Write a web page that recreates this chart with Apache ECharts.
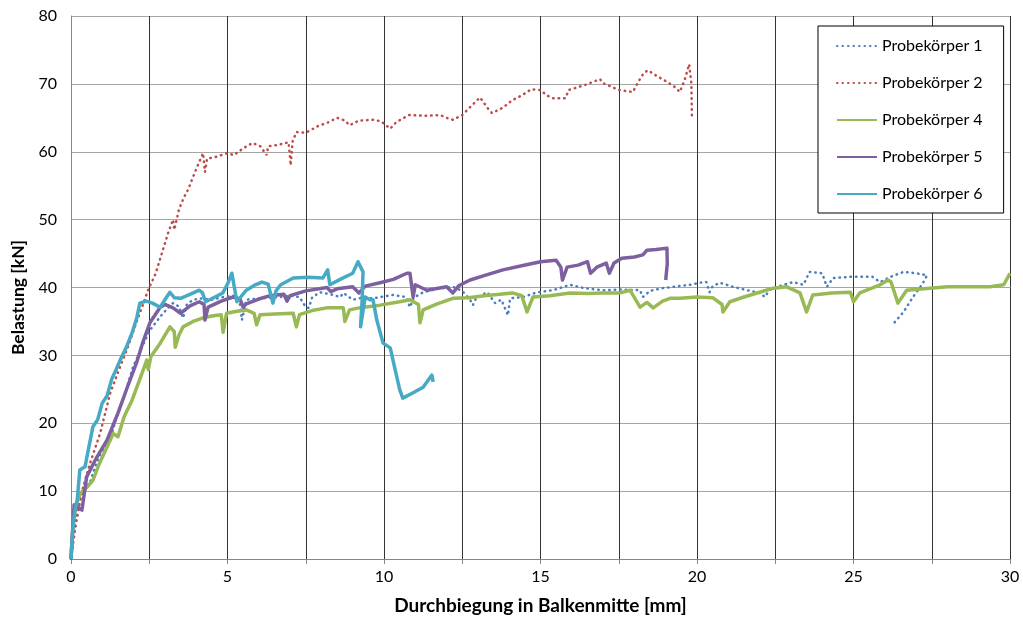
<!DOCTYPE html>
<html>
<head>
<meta charset="utf-8">
<script src="https://cdn.jsdelivr.net/npm/echarts@6/dist/echarts.min.js"></script>
<style>html,body{margin:0;padding:0;background:#fff;}#c{width:1023px;height:626px;}</style>
</head>
<body>
<div id="c"></div>
<script>
const seriesNames = ['Probekörper 1', 'Probekörper 2', 'Probekörper 4', 'Probekörper 5', 'Probekörper 6'];
const xTickLabels = [0, 5, 10, 15, 20, 25, 30];
const yTickLabels = [0, 10, 20, 30, 40, 50, 60, 70, 80];

const probe1 = [[0,0],[0.1,4],[0.25,8],[0.4,10.5],[0.6,11.2],[0.8,14],[1.0,16],[1.25,17.5],[1.4,20],[1.57,22.4],[1.8,25.5],[1.98,28.3],[2.2,30.5],[2.52,33.7],[2.85,35.7],[3.1,37],[3.26,37.7],[3.45,37.2],[3.58,35.5],[3.7,37.5],[3.9,38.2],[4.2,38.4],[4.5,38.2],[4.86,38.6],[5.2,38.8],[5.4,37.5],[5.46,35.2],[5.55,37],[5.6,38.2],[6.0,38.4],[6.4,38.5],[6.68,38.6],[7.0,38.8],[7.3,38.6],[7.5,37.1],[7.6,37],[7.7,38.5],[7.95,39.3],[8.3,39.0],[8.6,38.6],[8.7,39.2],[9.0,38.2],[9.3,38.5],[9.65,38.4],[10.0,38.7],[10.3,38.9],[10.7,38.6],[10.83,37.1],[10.95,38.5],[11.25,39.3],[11.7,39.8],[12.2,40.1],[12.5,39.5],[12.75,38.2],[12.84,37.4],[12.95,38.5],[13.3,39.3],[13.55,37.7],[13.75,38.2],[13.96,35.9],[14.03,38.4],[14.44,38.6],[14.9,39.3],[15.4,39.6],[15.94,40.4],[16.4,39.9],[17.0,39.6],[17.6,39.7],[18.18,39.6],[18.27,38.6],[18.5,39.5],[18.9,39.9],[19.4,40.2],[19.78,40.4],[20.2,40.8],[20.3,40.8],[20.4,39.3],[20.5,40.2],[20.73,40.7],[21.15,40.1],[21.6,39.6],[22.0,39.2],[22.17,38.6],[22.3,39.6],[22.7,40.3],[23.07,40.8],[23.4,40.4],[23.6,42.3],[24.0,42.1],[24.15,40.1],[24.35,41.4],[25.0,41.6],[25.6,41.6],[25.85,40.8],[26.2,41.6],[26.6,42.3],[27.0,42.1],[27.35,41.8],[27.2,40.5],[26.9,38.6],[26.6,36.4],[26.3,34.8]];

const probe2 = [[0,0],[0.15,5],[0.35,10],[0.6,14],[0.93,18.5],[1.25,24.4],[1.5,27.5],[1.8,31],[2.1,35],[2.3,37.5],[2.46,39.6],[2.7,42],[2.9,45],[3.1,48],[3.26,50],[3.3,48.5],[3.45,51.5],[3.6,53.2],[3.75,54.5],[3.9,56.3],[4.05,58],[4.22,59.8],[4.28,57],[4.35,59],[4.6,59.2],[4.8,59.5],[5.0,59.8],[5.2,59.5],[5.5,60.5],[5.8,61.3],[6.05,60.8],[6.25,59.5],[6.3,60.8],[6.6,61],[6.95,61.4],[7.02,58],[7.08,61.5],[7.2,62.9],[7.5,62.8],[7.9,63.8],[8.2,64.3],[8.5,65],[8.75,64.6],[8.9,63.9],[9.2,64.6],[9.65,64.7],[9.9,64.5],[10.2,63.4],[10.4,64.4],[10.8,65.4],[11.3,65.3],[11.8,65.4],[12.0,65],[12.2,64.7],[12.5,65.4],[12.8,66.8],[13.07,68],[13.3,66.5],[13.45,65.7],[13.8,66.5],[14.1,67.6],[14.4,68.3],[14.7,69.2],[15.0,69.1],[15.2,68.3],[15.4,67.9],[15.8,67.9],[15.9,69.1],[16.4,69.8],[16.9,70.7],[17.0,70.1],[17.3,69.5],[17.5,69.1],[17.95,68.8],[18.15,70.5],[18.3,71.6],[18.43,72],[18.7,71.2],[19.04,70.3],[19.3,69.5],[19.45,68.8],[19.6,70.5],[19.75,72.9],[19.82,70],[19.84,64.7]];

const probe4 = [[0,0],[0.07,5.7],[0.2,8.5],[0.3,9.7],[0.5,10.5],[0.7,11.6],[0.9,14],[1.1,16],[1.35,18.5],[1.5,18],[1.7,21],[1.95,23.4],[2.2,26.5],[2.42,29.3],[2.47,27.9],[2.55,29.8],[2.85,31.8],[3.16,34.2],[3.3,33.5],[3.33,31.2],[3.45,33],[3.58,34.2],[3.9,35],[4.2,35.5],[4.5,35.8],[4.8,36],[4.86,33.4],[4.97,36.2],[5.3,36.5],[5.6,36.7],[5.85,36.2],[5.93,34.5],[6.04,36],[6.5,36.1],[7.1,36.2],[7.2,34.2],[7.3,36],[7.7,36.6],[8.17,37],[8.7,37],[8.75,35],[8.9,36.7],[9.2,37],[9.87,37.4],[10.5,37.9],[10.83,38.2],[11.1,37.5],[11.15,34.8],[11.25,36.7],[11.7,37.6],[12.2,38.4],[12.7,38.5],[13.2,38.8],[13.7,39],[14.1,39.2],[14.4,38.8],[14.57,36.4],[14.76,38.6],[15.3,38.8],[15.94,39.2],[16.5,39.1],[17.0,39.2],[17.54,39.2],[17.86,39.6],[18.0,38.5],[18.18,37.1],[18.4,37.8],[18.6,37],[18.9,38],[19.14,38.4],[19.46,38.4],[20.0,38.6],[20.5,38.5],[20.8,37.5],[20.83,36.4],[21.05,37.9],[21.5,38.6],[22.0,39.3],[22.43,39.9],[22.87,40.1],[23.29,39.2],[23.5,36.4],[23.7,38.9],[24.3,39.2],[24.9,39.3],[25.0,37.9],[25.2,39.2],[25.85,40.4],[26.1,41.1],[26.2,40.8],[26.42,37.7],[26.7,39.6],[27.44,39.9],[28.0,40.1],[28.7,40.1],[29.36,40.1],[29.8,40.4],[30,42.1]];

const probe5 = [[0,0],[0.05,4],[0.1,8],[0.2,7.7],[0.35,7.2],[0.5,12.1],[0.8,14.8],[1.15,17.5],[1.5,21.5],[1.8,25.3],[2.1,29],[2.3,32],[2.52,34.8],[2.85,37.1],[3.0,37.5],[3.26,37],[3.5,36.2],[3.8,37.3],[4.1,37.9],[4.25,37.5],[4.28,35.2],[4.38,37.1],[4.8,38.0],[5.18,38.6],[5.4,38.3],[5.5,37.1],[5.6,37.6],[6.0,38.3],[6.36,38.8],[6.8,39.0],[6.9,38.0],[7.0,38.8],[7.5,39.5],[8.18,40.0],[8.3,39.4],[8.5,39.8],[9.0,40.1],[9.2,39.2],[9.4,40.2],[9.87,40.7],[10.3,41.2],[10.73,42.1],[10.83,42.1],[10.93,38.6],[11.0,40.4],[11.37,39.6],[12,40.1],[12.2,39.2],[12.4,40.3],[12.75,41.1],[13.3,41.9],[13.8,42.6],[14.4,43.2],[15.0,43.8],[15.5,44],[15.65,43],[15.7,41.1],[15.85,43],[16.2,43.3],[16.5,43.8],[16.6,42.1],[16.8,43],[17.1,43.6],[17.2,42.1],[17.35,43.6],[17.6,44.3],[18.0,44.5],[18.27,44.8],[18.4,45.5],[18.7,45.6],[19.04,45.8],[19.05,43.5],[19.0,41.1]];

const probe6 = [[0,0],[0.05,4],[0.12,7],[0.2,8.7],[0.28,13.1],[0.45,13.6],[0.55,16],[0.7,19.5],[0.85,20.5],[1.0,23],[1.15,24],[1.3,26.5],[1.45,28],[1.57,29.3],[1.75,31],[1.95,33.3],[2.1,35.5],[2.2,37.7],[2.4,38],[2.6,37.7],[2.85,37.1],[3.0,38.2],[3.16,39.3],[3.3,38.5],[3.5,38.4],[3.8,39],[4.1,39.6],[4.2,39.2],[4.3,37.9],[4.6,38.6],[4.85,39.2],[5.0,40.5],[5.14,42.1],[5.22,40],[5.3,37.9],[5.6,39.6],[5.85,40.3],[6.1,40.8],[6.3,40.5],[6.45,37.7],[6.55,39.5],[6.7,40.4],[7.1,41.4],[7.6,41.5],[8.05,41.4],[8.2,42.6],[8.27,40.4],[8.6,41.2],[9.0,42.1],[9.17,43.8],[9.33,42.3],[9.3,38],[9.25,34.2],[9.4,38.6],[9.55,38.2],[9.65,38.2],[9.77,35.2],[9.97,31.8],[10.2,31.1],[10.35,28],[10.5,25],[10.6,23.7],[10.93,24.5],[11.25,25.3],[11.53,27.1],[11.57,26.1]];

const seriesData = [probe1, probe2, probe4, probe5, probe6];
const colors = ['#4A7EBB', '#BE4B48', '#98B954', '#7D60A0', '#46AAC5'];
const dotted = [true, true, false, false, false];

const chart = echarts.init(document.getElementById('c'), null, {renderer: 'canvas'});
const FONT = 'Lato, "Open Sans", sans-serif';

chart.setOption({
  animation: false,
  backgroundColor: '#fff',
  grid: {left: 71, right: 13, top: 16, bottom: 67, containLabel: false},
  legend: {
    orient: 'vertical',
    left: 818, top: 26,
    padding: [12, 21, 11, 18],
    itemWidth: 40, itemHeight: 14, itemGap: 21,
    borderColor: '#000', borderWidth: 1, backgroundColor: '#fff',
    itemStyle: {opacity: 0},
    textStyle: {fontFamily: FONT, fontSize: 16, color: '#000'},
    data: seriesNames
  },
  xAxis: {
    type: 'value', min: 0, max: 30, interval: 2.5,
    name: 'Durchbiegung in Balkenmitte [mm]',
    nameLocation: 'middle', nameGap: 37,
    nameTextStyle: {fontFamily: FONT, fontSize: 19, fontWeight: 'bold', color: '#000'},
    axisLine: {show: true, lineStyle: {color: '#868686', width: 1}},
    axisTick: {show: true, length: 5, lineStyle: {color: '#868686'}},
    axisLabel: {
      fontFamily: FONT, fontSize: 16, color: '#000', margin: 10,
      formatter: v => (xTickLabels.indexOf(v) >= 0 ? String(v) : '')
    },
    splitLine: {show: true, lineStyle: {color: '#333', width: 1}}
  },
  yAxis: {
    type: 'value', min: 0, max: 80, interval: 10,
    name: 'Belastung [kN]',
    nameLocation: 'middle', nameGap: 42, nameRotate: 90,
    nameTextStyle: {fontFamily: FONT, fontSize: 17.5, fontWeight: 'bold', color: '#000', padding: [0, 20, 0, 0]},
    axisLine: {show: true, lineStyle: {color: '#868686', width: 1}},
    axisTick: {show: false},
    axisLabel: {
      fontFamily: FONT, fontSize: 16, color: '#000', margin: 14,
      formatter: v => (yTickLabels.indexOf(v) >= 0 ? String(v) : '')
    },
    splitLine: {show: true, lineStyle: {color: '#A6A6A6', width: 1}}
  },
  series: seriesNames.map((n, i) => ({
    name: n,
    type: 'line',
    data: seriesData[i],
    symbol: 'none',
    showSymbol: false,
    smooth: false,
    clip: true,
    color: colors[i],
    lineStyle: dotted[i]
      ? {color: colors[i], width: 2.5, type: [0.5, 5], cap: 'round'}
      : {color: colors[i], width: 3.5, join: 'round'}
  }))
});
</script>
</body>
</html>
